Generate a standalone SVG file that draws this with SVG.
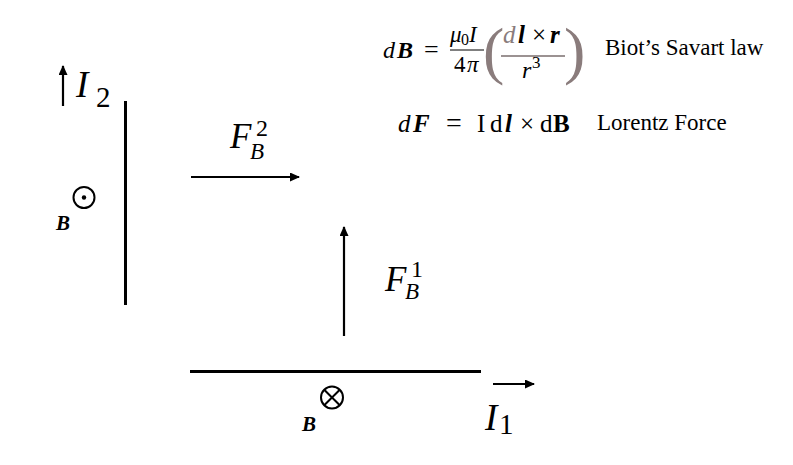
<svg xmlns="http://www.w3.org/2000/svg" width="793" height="465" viewBox="0 0 793 465">
<style>
  .m { font-family: "Liberation Serif", "Times New Roman", "DejaVu Serif", serif; fill: #000; }
  .it { font-style: italic; }
  .bi { font-style: italic; font-weight: bold; }
  .b { font-weight: bold; }
  .gray { fill: #8a7c7c; }
  .wire { stroke: #000; stroke-width: 3; fill: none; }
  .arrow { stroke: #000; stroke-width: 2.2; fill: none; marker-end: url(#ah); }
  .ring { stroke: #000; stroke-width: 2; fill: none; }
  .txt { font-family: "Liberation Serif", "Times New Roman", "DejaVu Serif", serif; font-size: 23px; fill: #000; }
</style>
<defs>
  <marker id="ah" markerUnits="userSpaceOnUse" markerWidth="10" markerHeight="9" refX="9" refY="4.5" orient="auto">
    <path d="M0,0 L10,4.5 L0,9 z" fill="#000"/>
  </marker>
</defs>
<rect width="793" height="465" fill="#fff"/>

<g id="connectors">
  <line class="arrow" x1="63" y1="106" x2="63" y2="66"/>
  <line class="arrow" x1="191" y1="177" x2="299" y2="177"/>
  <line class="arrow" x1="344" y1="336" x2="344" y2="227"/>
  <line class="arrow" x1="493" y1="384" x2="534" y2="384"/>
</g>

<g id="wire2">
  <line class="wire" x1="125.5" y1="101" x2="125.5" y2="305"/>
</g>
<g id="wire1">
  <line class="wire" x1="190" y1="371.5" x2="481" y2="371.5"/>
</g>

<g id="label-I2">
  <text class="m it" x="76" y="97" font-size="37">I</text>
  <text class="m" x="96" y="107" font-size="29">2</text>
</g>
<g id="label-I1">
  <text class="m it" x="485" y="430" font-size="37">I</text>
  <text class="m" x="499" y="434" font-size="29">1</text>
</g>

<g id="label-FB2">
  <text class="m it" x="230" y="148" font-size="35">F</text>
  <text class="m" x="256" y="136" font-size="24">2</text>
  <text class="m it" x="250" y="159" font-size="23">B</text>
</g>
<g id="label-FB1">
  <text class="m it" x="385" y="291" font-size="35">F</text>
  <text class="m" x="411" y="277" font-size="24">1</text>
  <text class="m it" x="405" y="299" font-size="23">B</text>
</g>

<g id="field-out">
  <circle class="ring" cx="84" cy="197.5" r="10.5"/>
  <circle cx="84" cy="197.5" r="2.2" fill="#000"/>
  <text class="m bi" x="56" y="230" font-size="21">B</text>
</g>
<g id="field-in">
  <circle class="ring" cx="332" cy="397.5" r="11"/>
  <line class="ring" x1="324.2" y1="389.7" x2="339.8" y2="405.3"/>
  <line class="ring" x1="339.8" y1="389.7" x2="324.2" y2="405.3"/>
  <text class="m bi" x="302" y="431" font-size="21">B</text>
</g>

<g id="biot-savart">
  <text class="m it" x="383" y="58" font-size="24">d</text>
  <text class="m bi" x="397" y="58" font-size="24">B</text>
  <text class="m" x="424" y="58" font-size="26">=</text>
  <text class="m it" x="450" y="42" font-size="23">μ</text>
  <text class="m" x="461" y="45" font-size="16">0</text>
  <text class="m it" x="469" y="42" font-size="23">I</text>
  <line x1="450" y1="50" x2="484" y2="50" stroke="#555" stroke-width="1.3"/>
  <text class="m" x="454" y="72" font-size="23">4</text>
  <text class="m it" x="467" y="72" font-size="23">π</text>
  <text class="m gray" x="483" y="72" font-size="64">(</text>
  <text class="m it gray" x="503" y="43" font-size="25">d</text>
  <text class="m bi" x="518" y="43" font-size="25">l</text>
  <text class="m" x="532" y="43" font-size="25">×</text>
  <text class="m bi" x="550" y="43" font-size="25">r</text>
  <line x1="501" y1="56" x2="565" y2="56" stroke="#7a6e6e" stroke-width="1.3"/>
  <text class="m it" x="522" y="78" font-size="24">r</text>
  <text class="m" x="532" y="68" font-size="17">3</text>
  <text class="m gray" x="564" y="72" font-size="64">)</text>
  <text class="txt" x="605" y="55">Biot’s Savart law</text>
</g>

<g id="lorentz">
  <text class="m it" x="398" y="132" font-size="25">d</text>
  <text class="m bi" x="413" y="132" font-size="25">F</text>
  <text class="m" x="446" y="132" font-size="28">=</text>
  <text class="m" x="477" y="132" font-size="25">I</text>
  <text class="m" x="490" y="132" font-size="25">d</text>
  <text class="m bi" x="505" y="132" font-size="25">l</text>
  <text class="m" x="520" y="132" font-size="25">×</text>
  <text class="m" x="540" y="132" font-size="25">d</text>
  <text class="m b" x="553" y="132" font-size="25">B</text>
  <text class="txt" x="597" y="130">Lorentz Force</text>
</g>
</svg>
